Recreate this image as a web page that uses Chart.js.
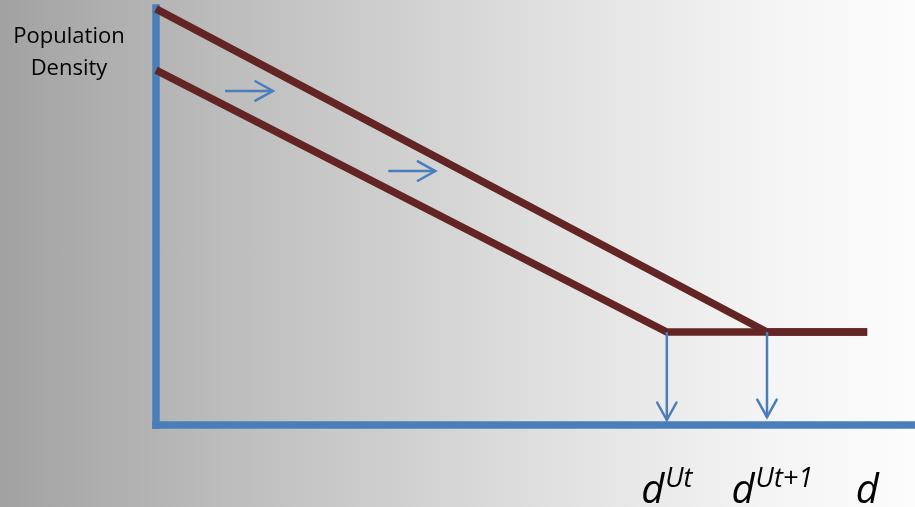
<!DOCTYPE html>
<html>
<head>
<meta charset="utf-8">
<script src="https://cdn.jsdelivr.net/npm/chart.js@4/dist/chart.umd.min.js"></script>
<style>
  html, body { margin: 0; padding: 0; }
  body {
    width: 915px; height: 507px; overflow: hidden;
    background: linear-gradient(to right, #a2a2a2 0%, #c2c2c2 30%, #e0e0e0 60%, #f5f5f5 85%, #fcfcfc 100%);
  }
  canvas { display: block; }
</style>
</head>
<body>
<canvas id="densityChart" width="915" height="507"></canvas>
<script>
// distance (x) and population density (y), arbitrary units
const distBefore = [0, 67.3, 93.7];
const densBefore = [85.1, 22.3, 22.3];
const distAfter = [0, 80.5, 93.7];
const densAfter = [99.8, 22.3, 22.3];

// shift arrows between the two gradients
const shiftFromX = [9.1, 30.6];
const shiftToX = [15.4, 36.8];
const shiftY = [80.1, 60.9];

// arrows dropping from the edges to the distance axis
const dropX = [67.3, 80.5];
const dropFromY = [22.3, 22.3];
const dropToY = [1.2, 1.9];

// distance axis labels
const tickX = [67.3, 81.2, 93.7];
const tickBase = ['d', 'd', 'd'];
const tickSup = ['Ut', 'Ut+1', ''];

const yTitle = ['Population', 'Density'];

const red = '#632523';
const blue = '#4a7ebb';

const toPoints = (xs, ys) => xs.map((x, i) => ({ x: x, y: ys[i] }));

const datasets = [];
shiftFromX.forEach((x, i) => {
    datasets.push({
        data: [{ x: x, y: shiftY[i] }, { x: shiftToX[i], y: shiftY[i] }],
        borderColor: blue, borderWidth: 2.5, arrow: true
    });
});
dropX.forEach((x, i) => {
    datasets.push({
        data: [{ x: x, y: dropFromY[i] }, { x: x, y: dropToY[i] }],
        borderColor: blue, borderWidth: 2.5, arrow: true
    });
});
datasets.push({ data: toPoints(distAfter, densAfter), borderColor: red, borderWidth: 7.5 });
datasets.push({ data: toPoints(distBefore, densBefore), borderColor: red, borderWidth: 7.5 });
// axes
datasets.push({ data: [{ x: 0, y: 100 }, { x: 0, y: 0 }], borderColor: blue, borderWidth: 7.5, borderCapStyle: 'square' });
datasets.push({ data: [{ x: 0, y: 0 }, { x: 100, y: 0 }], borderColor: blue, borderWidth: 7.5, borderCapStyle: 'square' });

datasets.forEach(d => {
    d.showLine = true;
    d.pointRadius = 0;
    d.pointHoverRadius = 0;
    d.clip = false;
    d.tension = 0;
});

const arrowHeads = {
    id: 'arrowHeads',
    afterDatasetsDraw(chart) {
        const ctx = chart.ctx;
        chart.data.datasets.forEach((ds, i) => {
            if (!ds.arrow) return;
            const pts = chart.getDatasetMeta(i).data;
            const a = pts[pts.length - 2];
            const b = pts[pts.length - 1];
            const ang = Math.atan2(b.y - a.y, b.x - a.x);
            const len = 20, spread = Math.PI / 6.2;
            ctx.save();
            ctx.strokeStyle = ds.borderColor;
            ctx.lineWidth = ds.borderWidth;
            ctx.lineCap = 'round';
            ctx.beginPath();
            ctx.moveTo(b.x - len * Math.cos(ang - spread), b.y - len * Math.sin(ang - spread));
            ctx.lineTo(b.x, b.y);
            ctx.lineTo(b.x - len * Math.cos(ang + spread), b.y - len * Math.sin(ang + spread));
            ctx.stroke();
            ctx.restore();
        });
    }
};

const labels = {
    id: 'labels',
    afterDraw(chart) {
        const ctx = chart.ctx;
        const xs = chart.scales.x;
        const area = chart.chartArea;
        ctx.save();
        ctx.fillStyle = '#000';
        ctx.textBaseline = 'alphabetic';

        // y axis title, top left
        ctx.font = '22px "Open Sans"';
        ctx.textAlign = 'center';
        yTitle.forEach((t, i) => ctx.fillText(t, 69, 43 + i * 32));

        // distance labels with superscripts
        ctx.textAlign = 'left';
        const baseline = area.bottom + 78;
        tickX.forEach((v, i) => {
            ctx.font = 'italic 40px "Open Sans"';
            const wb = ctx.measureText(tickBase[i]).width;
            ctx.font = 'italic 27px "Open Sans"';
            const ws = tickSup[i] ? ctx.measureText(tickSup[i]).width + 1 : 0;
            const left = xs.getPixelForValue(v) - (wb + ws) / 2;
            ctx.font = 'italic 40px "Open Sans"';
            ctx.fillText(tickBase[i], left, baseline);
            if (tickSup[i]) {
                ctx.font = 'italic 27px "Open Sans"';
                ctx.fillText(tickSup[i], left + wb + 1, baseline - 16);
            }
        });
        ctx.restore();
    }
};

new Chart(document.getElementById('densityChart'), {
    type: 'scatter',
    data: { datasets: datasets },
    options: {
        responsive: false,
        animation: false,
        layout: { padding: { left: 156, right: 0, top: 8, bottom: 82 } },
        scales: {
            x: { type: 'linear', min: 0, max: 100, display: false },
            y: { type: 'linear', min: 0, max: 100, display: false }
        },
        plugins: {
            legend: { display: false },
            tooltip: { enabled: false }
        }
    },
    plugins: [arrowHeads, labels]
});
</script>
</body>
</html>
